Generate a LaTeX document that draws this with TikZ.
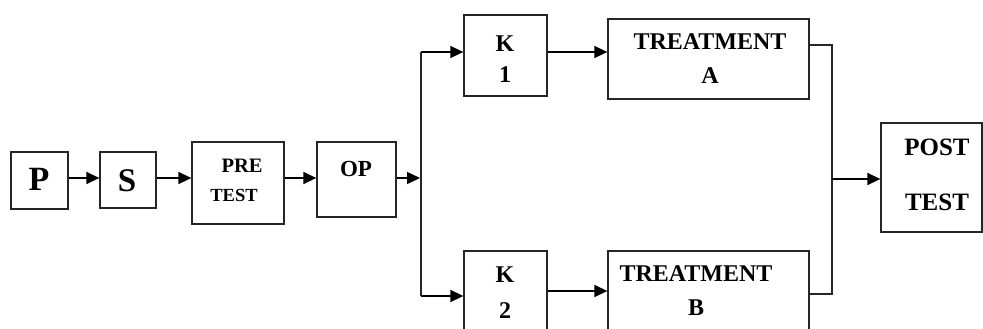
\documentclass[tikz,border=0pt]{standalone}
\usepackage{fontspec}
\setmainfont{Liberation Serif}
\usetikzlibrary{arrows.meta}
\tikzset{
  box/.style={draw=black!85, line width=1.3pt, rectangle, inner sep=0, fill=none},
  txt/.style={inner sep=0, font=\bfseries},
  arr/.style={draw=black, line width=1.5pt, -{Triangle[length=13pt,width=12pt]}},
  ln/.style={draw=black!85, line width=1.4pt},
}
\newcommand{\fs}[1]{\fontsize{#1}{#1}\selectfont}
\begin{document}
\begin{tikzpicture}[x=1pt,y=-1pt]
\useasboundingbox (0,0) rectangle (983,329);
% boxes
\node[box, minimum width=57pt, minimum height=57pt] (P) at (39.5,180.5) {};
\node[box, minimum width=56pt, minimum height=56pt] (S) at (128,180) {};
\node[box, minimum width=92pt, minimum height=82pt] (PRE) at (238,183) {};
\node[box, minimum width=79pt, minimum height=75pt] (OP) at (356.5,179.5) {};
\node[box, minimum width=83pt, minimum height=81pt] (K1) at (505.5,55.5) {};
\node[box, minimum width=201pt, minimum height=80pt] (TA) at (708.5,59) {};
\node[box, minimum width=83pt, minimum height=81pt] (K2) at (505.5,291.5) {};
\node[box, minimum width=201pt, minimum height=80pt] (TB) at (708.5,291) {};
\node[box, minimum width=101pt, minimum height=109pt] (POST) at (931.5,177.5) {};
% texts
\node[txt, font=\bfseries\fs{34}] (tP) at (39,179) {P};
\node[txt, font=\bfseries\fs{33}] (tS) at (127,181) {S};
\node[txt, font=\bfseries\fs{20.5}] (tPRE) at (242,166) {PRE};
\node[txt, font=\bfseries\fs{18.5}] (tTEST1) at (234,195.5) {TEST};
\node[txt, font=\bfseries\fs{23}] (tOP) at (356,169) {OP};
\node[txt, font=\bfseries\fs{24}] (tK1) at (505,44) {K};
\node[txt, font=\bfseries\fs{24}] (t1) at (505,75) {1};
\node[txt, font=\bfseries\fs{24}] (tTA) at (710,42) {TREATMENT};
\node[txt, font=\bfseries\fs{24}] (tA) at (710,75.5) {A};
\node[txt, font=\bfseries\fs{24}] (tK2) at (505,275) {K};
\node[txt, font=\bfseries\fs{24}] (t2) at (505,311) {2};
\node[txt, font=\bfseries\fs{24}] (tTB) at (696,274) {TREATMENT};
\node[txt, font=\bfseries\fs{24}] (tB) at (696,307.5) {B};
\node[txt, font=\bfseries\fs{25}] (tPOST) at (937,147.5) {POST};
\node[txt, font=\bfseries\fs{25}] (tTEST2) at (937,202.5) {TEST};
% helper coordinates
\coordinate (ymain) at (0,178);
\coordinate (split) at (421,178);
\coordinate (tipOP) at (420,178);
\coordinate (ytop) at (0,52);
\coordinate (ybot) at (0,296);
\coordinate (yk2) at (0,291);
\coordinate (ya) at (0,45);
\coordinate (yb) at (0,294);
\coordinate (join) at (832,179);
% connectors
\draw[arr] (P.east|-ymain) -- (S.west|-ymain);
\draw[arr] (S.east|-ymain) -- (PRE.west|-ymain);
\draw[arr] (PRE.east|-ymain) -- (OP.west|-ymain);
\draw[arr] (OP.east|-ymain) -- (tipOP);
\draw[ln] (split|-ytop) -- (split|-ybot);
\draw[arr] (split|-ytop) -- (K1.west|-ytop);
\draw[arr] (split|-ybot) -- (K2.west|-ybot);
\draw[arr] (K1.east|-ytop) -- (TA.west|-ytop);
\draw[arr] (K2.east|-yk2) -- (TB.west|-yk2);
\draw[ln] (TA.east|-ya) -- (join|-ya) -- (join|-yb) -- (TB.east|-yb);
\draw[arr] (join) -- (POST.west|-join);
\end{tikzpicture}
\end{document}
